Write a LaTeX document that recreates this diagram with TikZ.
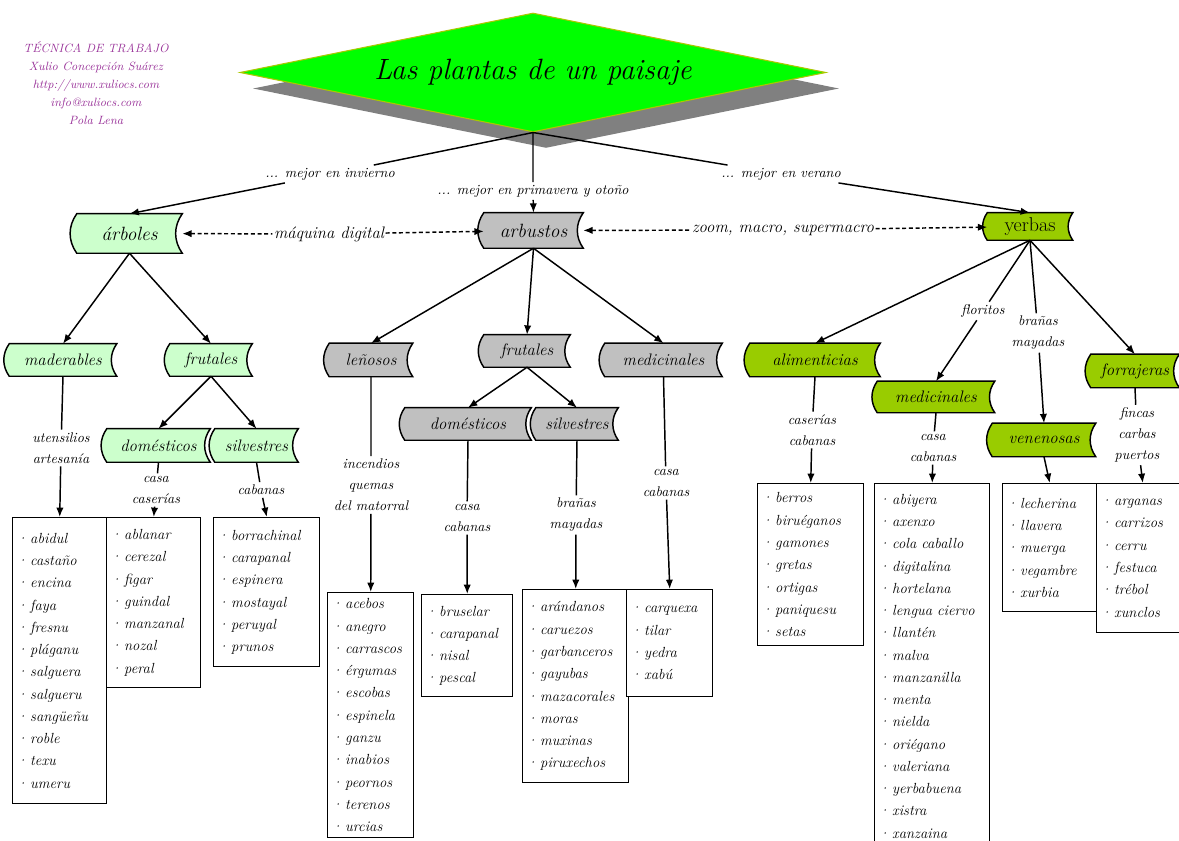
\documentclass[tikz,border=0pt]{standalone}
\usepackage{tikz}
\usetikzlibrary{arrows.meta, shapes.geometric, shadows}
\pgfdeclarelayer{bg}
\pgfsetlayers{bg,main}

\definecolor{verdeclaro}{RGB}{204,255,204}
\definecolor{gris}{RGB}{192,192,192}
\definecolor{verdeoliva}{RGB}{153,204,0}
\definecolor{verdetitulo}{RGB}{0,255,0}
\definecolor{bordetitulo}{RGB}{170,200,0}
\definecolor{morado}{RGB}{153,51,153}

\tikzset{
  cinta/.style={inner sep=0pt, font=\fontsize{12.5}{15}\selectfont\itshape},
  raiz/.style={inner sep=0pt, font=\fontsize{14.4}{17}\selectfont\itshape},
  etiq/.style={align=center, inner sep=2pt, font=\fontsize{10.5}{15.75}\selectfont\itshape},
  enlace/.style={inner sep=1pt, font=\fontsize{12.5}{15}\selectfont\itshape},
  caja/.style={draw, line width=1.1pt, fill=white, anchor=north west, align=left,
    inner xsep=3pt, inner ysep=2pt, font=\fontsize{11}{16.7}\selectfont\itshape},
  linea/.style={line width=1.1pt},
  flecha/.style={line width=1.1pt, -{Latex[length=7pt,width=5.5pt]}},
  ida/.style={line width=1.1pt, densely dashed, -{Latex[length=7pt,width=5.5pt]}},
  vuelta/.style={line width=1.1pt, densely dashed, {Latex[length=7pt,width=5.5pt]}-},
}

\begin{document}
\begin{tikzpicture}[x=0.75pt, y=-0.75pt]
  \useasboundingbox (0,0) rectangle (1179,841);
  \clip (0,0) rectangle (1179,841);

  \node[font=\fontsize{9}{13.5}\selectfont\itshape, text=morado, align=center] (creditos) at (96,83)
    {TÉCNICA DE TRABAJO\\Xulio Concepción Suárez\\http://www.xuliocs.com\\info@xuliocs.com\\Pola Lena};

  \node[diamond, aspect=4.9, inner sep=0pt, minimum width=439.5pt, minimum height=89.25pt,
    fill=verdetitulo, draw=bordetitulo, line width=0.8pt,
    copy shadow={shadow xshift=9.75pt, shadow yshift=-12pt, fill=gray, draw=none},
    font=\fontsize{22}{26}\selectfont\itshape] (titulo) at (533,72.5) {Las plantas de un paisaje};

  % etiquetas de arriba
  \node[etiq] (inv) at (330,174) {... mejor en invierno};
  \node[etiq] (pri) at (533,191) {... mejor en primavera y otoño};
  \node[etiq] (ver) at (781,174) {... mejor en verano};

  % primer nivel
  \node[raiz, minimum width=78.75pt, minimum height=29.25pt] (arboles) at (129.5,233.5) {árboles};
  \node[raiz, minimum width=74.25pt, minimum height=26.25pt] (arbustos) at (533.5,230.5) {arbustos};
  \node[raiz, minimum width=63.75pt, minimum height=20.25pt, font=\fontsize{15}{18}\selectfont\upshape] (yerbas) at (1030,226.5) {yerbas};
  \node[enlace] (maq) at (329,234) {máquina digital};
  \node[enlace] (zoom) at (783,230) {zoom, macro, supermacro};

  % árboles
  \node[cinta, minimum width=80.25pt, minimum height=24pt] (maderables) at (63,360) {maderables};
  \node[cinta, minimum width=61.5pt, minimum height=24pt] (frutalesA) at (211,360) {frutales};
  \node[cinta, minimum width=77.25pt, minimum height=24.75pt] (domesticosA) at (158.5,445.5) {domésticos};
  \node[cinta, minimum width=62.25pt, minimum height=24.75pt] (silvestresA) at (256.5,445.5) {silvestres};
  \node[etiq] (lutens) at (61,448) {utensilios\\artesanía};
  \node[etiq] (lcasaA) at (156,490) {casa\\caserías};
  \node[etiq] (lcabA) at (261,490) {cabanas};

  % arbustos
  \node[cinta, minimum width=62.25pt, minimum height=24.75pt] (lenosos) at (371,360) {leñosos};
  \node[cinta, minimum width=64.5pt, minimum height=24pt] (frutalesB) at (527,351) {frutales};
  \node[cinta, minimum width=87.75pt, minimum height=24.75pt] (medicinalesB) at (663.5,360) {medicinales};
  \node[cinta, minimum width=94.5pt, minimum height=24pt] (domesticosB) at (468,424) {domésticos};
  \node[cinta, minimum width=61.5pt, minimum height=24pt] (silvestresB) at (577,424) {silvestres};
  \node[etiq] (lincen) at (371,485) {incendios\\quemas\\del matorral};
  \node[etiq] (lcasaB) at (467,518) {casa\\cabanas};
  \node[etiq] (lbranB) at (576,515) {brañas\\mayadas};
  \node[etiq] (lcasaC) at (666,483) {casa\\cabanas};

  % yerbas
  \node[cinta, minimum width=97.5pt, minimum height=24.75pt] (alimenticias) at (815,360) {alimenticias};
  \node[cinta, minimum width=87.75pt, minimum height=23.25pt] (medicinalesC) at (936,397) {medicinales};
  \node[cinta, minimum width=77.25pt, minimum height=24.75pt] (venenosas) at (1044,440) {venenosas};
  \node[cinta, minimum width=66pt, minimum height=24.75pt] (forrajeras) at (1135,371) {forrajeras};
  \node[etiq] (lflor) at (983,311) {floritos};
  \node[etiq] (lbranC) at (1038,333) {brañas\\mayadas};
  \node[etiq] (lcaser) at (812,430) {caserías\\cabanas};
  \node[etiq] (lcasaD) at (933,448) {casa\\cabanas};
  \node[etiq] (lfincas) at (1137,435) {fincas\\carbas\\puertos};

  % listas
  \node[caja, text width=64.5pt, minimum height=214.5pt] (caja1) at (12,517)
    {·\,abidul\\·\,castaño\\·\,encina\\·\,faya\\·\,fresnu\\·\,pláganu\\·\,salguera\\·\,salgueru\\·\,sangüeñu\\·\,roble\\·\,texu\\·\,umeru};
  \node[caja, text width=64.5pt, minimum height=127.5pt] (caja2) at (106,517)
    {·\,ablanar\\·\,cerezal\\·\,figar\\·\,guindal\\·\,manzanal\\·\,nozal\\·\,peral};
  \node[caja, text width=73.5pt, minimum height=111.75pt] (caja3) at (213,517)
    {·\,borrachinal\\·\,carapanal\\·\,espinera\\·\,mostayal\\·\,peruyal\\·\,prunos};
  \node[caja, text width=58.5pt, minimum height=183.75pt] (caja4) at (327,592)
    {·\,acebos\\·\,anegro\\·\,carrascos\\·\,érgumas\\·\,escobas\\·\,espinela\\·\,ganzu\\·\,inabios\\·\,peornos\\·\,terenos\\·\,urcias};
  \node[caja, text width=62.25pt, minimum height=76.5pt] (caja5) at (421,594)
    {·\,bruselar\\·\,carapanal\\·\,nisal\\·\,pescal};
  \node[caja, text width=73.5pt, minimum height=144.75pt] (caja6) at (522,589)
    {·\,arándanos\\·\,caruezos\\·\,garbanceros\\·\,gayubas\\·\,mazacorales\\·\,moras\\·\,muxinas\\·\,piruxechos};
  \node[caja, text width=58.5pt, minimum height=80.25pt] (caja7) at (626,589)
    {·\,carquexa\\·\,tilar\\·\,yedra\\·\,xabú};
  \node[caja, text width=73.5pt, minimum height=121.5pt] (caja8) at (757,483)
    {·\,berros\\·\,biruéganos\\·\,gamones\\·\,gretas\\·\,ortigas\\·\,paniquesu\\·\,setas};
  \node[caja, text width=80.25pt, minimum height=273.75pt] (caja9) at (874,483)
    {·\,abiyera\\·\,axenxo\\·\,cola caballo\\·\,digitalina\\·\,hortelana\\·\,lengua ciervo\\·\,llantén\\·\,malva\\·\,manzanilla\\·\,menta\\·\,nielda\\·\,oriégano\\·\,valeriana\\·\,yerbabuena\\·\,xistra\\·\,xanzaina};
  \node[caja, text width=64.5pt, minimum height=96pt] (caja10) at (1002,483)
    {·\,lecherina\\·\,llavera\\·\,muerga\\·\,vegambre\\·\,xurbia};
  \node[caja, text width=63pt, minimum height=111.75pt] (caja11) at (1096,483)
    {·\,arganas\\·\,carrizos\\·\,cerru\\·\,festuca\\·\,trébol\\·\,xunclos};

  % cintas de fondo
  \begin{pgfonlayer}{bg}
    \foreach \n/\c in {arboles/verdeclaro, maderables/verdeclaro, frutalesA/verdeclaro,
        domesticosA/verdeclaro, silvestresA/verdeclaro, arbustos/gris, lenosos/gris,
        frutalesB/gris, medicinalesB/gris, domesticosB/gris, silvestresB/gris,
        yerbas/verdeoliva, alimenticias/verdeoliva, medicinalesC/verdeoliva,
        venenosas/verdeoliva, forrajeras/verdeoliva} {
      \draw[linea, fill=\c] (\n.north west) to[bend right=35] (\n.south west)
        -- (\n.south east) to[bend left=35] (\n.north east) -- cycle;
    }
  \end{pgfonlayer}

  % conectores
  \draw[flecha] (titulo.south) -- (inv) -- (arboles.north);
  \draw[flecha] (titulo.south) -- (pri) -- (arbustos.north);
  \draw[flecha] (titulo.south) -- (ver) -- (yerbas.north);
  \draw[vuelta] (arboles) -- (maq);
  \draw[ida] (maq) -- (arbustos);
  \draw[vuelta] (arbustos) -- (zoom);
  \draw[ida] (zoom) -- (yerbas);

  \draw[flecha] (arboles.south) -- (maderables.north);
  \draw[flecha] (arboles.south) -- (frutalesA.north);
  \draw[flecha] (frutalesA.south) -- (domesticosA.north);
  \draw[flecha] (frutalesA.south) -- (silvestresA.north);
  \draw[flecha] (maderables.south) -- (lutens) -- (caja1.north);
  \draw[flecha] (domesticosA.south) -- (lcasaA) -- (caja2.north);
  \draw[flecha] (silvestresA.south) -- (lcabA) -- (caja3.north);

  \draw[flecha] (arbustos.south) -- (lenosos.north);
  \draw[flecha] (arbustos.south) -- (frutalesB.north);
  \draw[flecha] (arbustos.south) -- (medicinalesB.north);
  \draw[flecha] (frutalesB.south) -- (domesticosB.north);
  \draw[flecha] (frutalesB.south) -- (silvestresB.north);
  \draw[flecha] (lenosos.south) -- (lincen) -- (caja4.north);
  \draw[flecha] (domesticosB.south) -- (lcasaB) -- (caja5.north);
  \draw[flecha] (silvestresB.south) -- (lbranB) -- (caja6.north);
  \draw[flecha] (medicinalesB.south) -- (lcasaC) -- (caja7.north);

  \draw[flecha] (yerbas.south) -- (alimenticias.north);
  \draw[flecha] (yerbas.south) -- (lflor) -- (medicinalesC.north);
  \draw[flecha] (yerbas.south) -- (lbranC) -- (venenosas.north);
  \draw[flecha] (yerbas.south) -- (forrajeras.north);
  \draw[flecha] (alimenticias.south) -- (lcaser) -- (caja8.north);
  \draw[flecha] (medicinalesC.south) -- (lcasaD) -- (caja9.north);
  \draw[flecha] (venenosas.south) -- (caja10.north);
  \draw[flecha] (forrajeras.south) -- (lfincas) -- (caja11.north);
\end{tikzpicture}
\end{document}
